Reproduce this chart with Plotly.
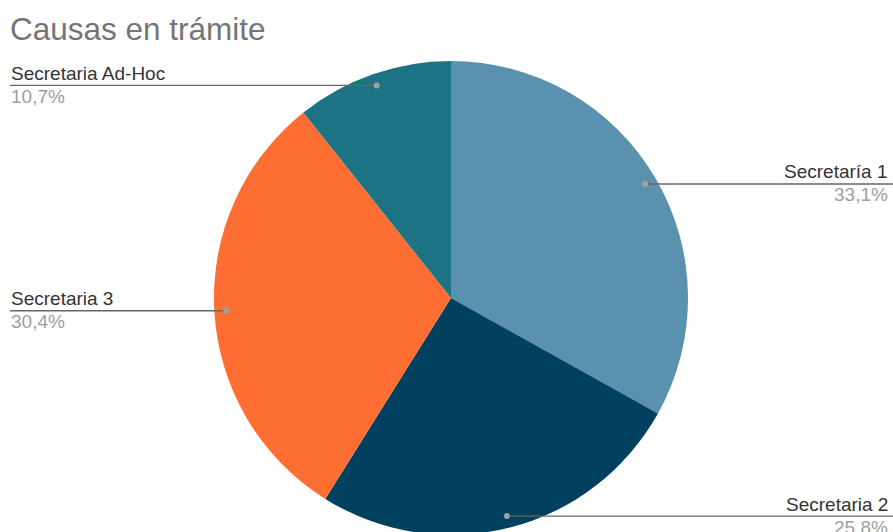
import math
import plotly.graph_objects as go

labels = ["Secretaría 1", "Secretaria 2", "Secretaria 3", "Secretaria Ad-Hoc"]
values = [33.1, 25.8, 30.4, 10.7]
colors = ["#5A91AE", "#01405E", "#FE6D32", "#1C7384"]
title_text = "Causas en trámite"

W, H = 893, 540              # figure size (window crops the bottom like the reference)
CX, CY, R = 451, 298, 237    # pie geometry in pixels

dom_x = [(CX - R) / W, (CX + R) / W]
dom_y = [1 - (CY + R) / H, 1 - (CY - R) / H]

fig = go.Figure(go.Pie(
    labels=labels, values=values, sort=False, direction="clockwise", rotation=0,
    marker=dict(colors=colors, line=dict(width=0)),
    textinfo="none", hoverinfo="label+percent", showlegend=False,
    domain=dict(x=dom_x, y=dom_y),
))

shapes, annotations = [], []
total = sum(values)
cum = 0
font_family = "Arial, Liberation Sans, sans-serif"
for lab, v in zip(labels, values):
    mid = (cum + v / 2) / total * 2 * math.pi
    cum += v
    r = 0.95 * R
    dx = CX + r * math.sin(mid)
    dy = CY - r * math.cos(mid)
    right = math.sin(mid) > 0
    ex = W if right else 10
    yp = 1 - dy / H
    shapes.append(dict(type="line", xref="paper", yref="paper", x0=dx / W, y0=yp, x1=ex / W, y1=yp,
                       line=dict(color="#666666", width=1.3)))
    rr = 3
    shapes.append(dict(type="circle", xref="paper", yref="paper",
                       x0=(dx - rr) / W, x1=(dx + rr) / W, y0=1 - (dy + rr) / H, y1=1 - (dy - rr) / H,
                       fillcolor="#A0A0A0", line=dict(width=0)))
    tx = 889 / W if right else 10 / W
    xa = "right" if right else "left"
    annotations.append(dict(x=tx, y=yp, xref="paper", yref="paper", text=lab, showarrow=False,
                            xanchor=xa, yanchor="middle", yshift=12, borderpad=0,
                            font=dict(size=19, color="#333333", family=font_family)))
    pct = f"{v:.1f}%".replace(".", ",")
    annotations.append(dict(x=tx, y=yp, xref="paper", yref="paper", text=pct, showarrow=False,
                            xanchor=xa, yanchor="middle", yshift=-11, borderpad=0,
                            font=dict(size=19, color="#9E9E9E", family=font_family)))

fig.update_layout(
    width=W, height=H, margin=dict(l=0, r=0, t=0, b=0),
    paper_bgcolor="white", plot_bgcolor="white",
    title=dict(text=title_text, x=10 / W, xanchor="left", y=1 - 29 / H, yanchor="middle",
               font=dict(size=31.5, color="#757575", family=font_family)),
    shapes=shapes, annotations=annotations,
)

fig.write_html(
    "out.html",
    config={"displayModeBar": False},
    post_script="document.body.style.margin='0';document.body.style.overflow='hidden';"
                "document.documentElement.style.overflow='hidden';",
)
